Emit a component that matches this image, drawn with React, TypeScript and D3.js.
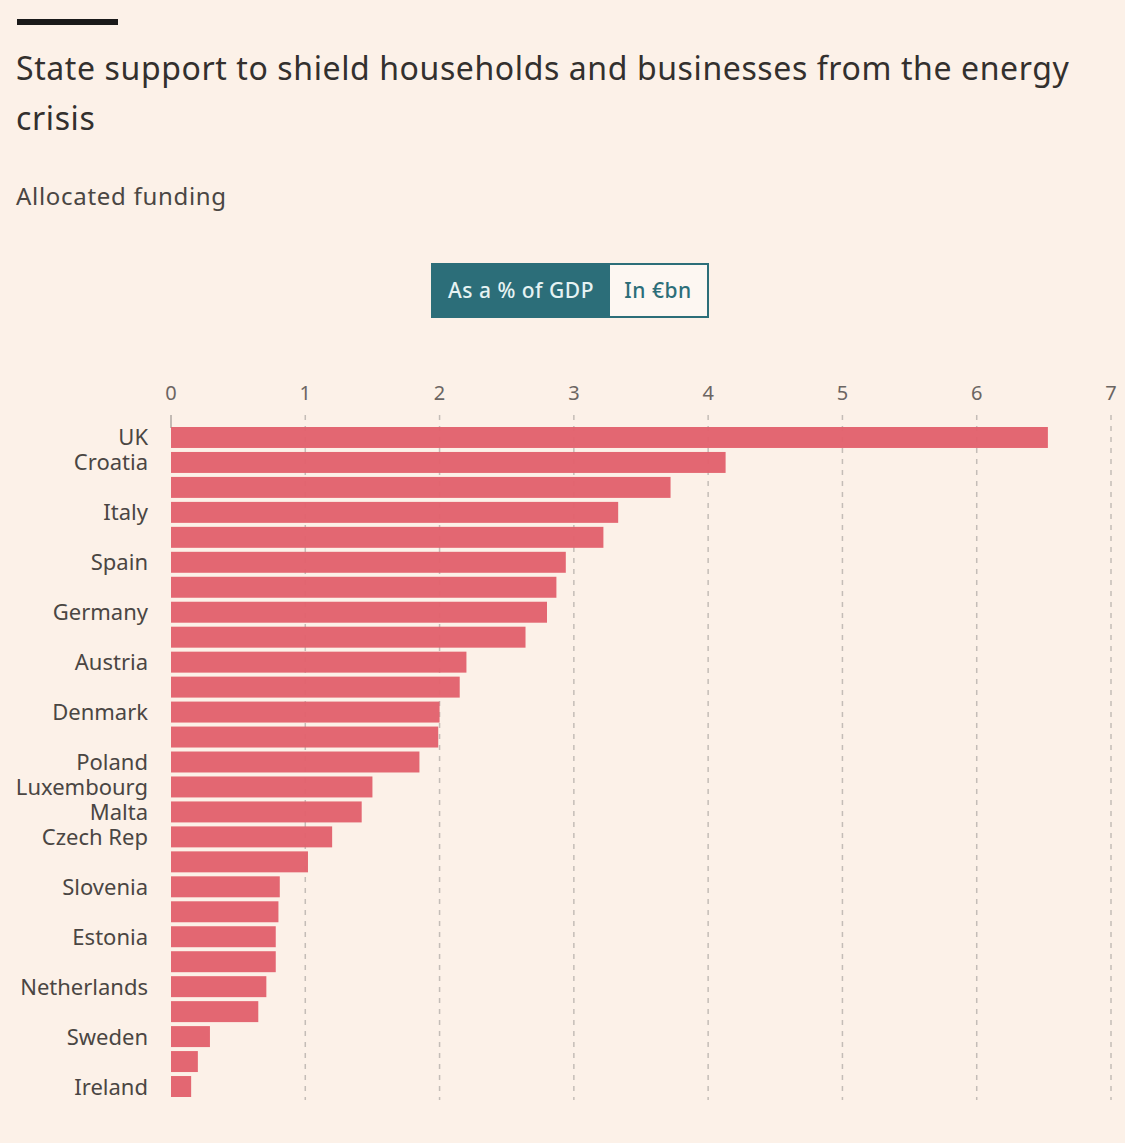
import React from "react";
import * as d3 from "d3";

const countries = [
  "UK", "Croatia", "", "Italy", "", "Spain", "", "Germany", "", "Austria", "",
  "Denmark", "", "Poland", "Luxembourg", "Malta", "Czech Rep", "", "Slovenia", "",
  "Estonia", "", "Netherlands", "", "Sweden", "", "Ireland",
];
const values = [
  6.53, 4.13, 3.72, 3.33, 3.22, 2.94, 2.87, 2.80, 2.64, 2.20, 2.15,
  2.00, 1.99, 1.85, 1.50, 1.42, 1.20, 1.02, 0.81, 0.80, 0.78, 0.78,
  0.71, 0.65, 0.29, 0.20, 0.15,
];
const ticks = [0, 1, 2, 3, 4, 5, 6, 7];

const W = 1125;
const H = 1143;
const BG = "#fcf1e8";
const BAR = "#e2626d";
const TEXT = "#4a4643";
const TEAL = "#2c6e79";
const FONT = "'Noto Sans', 'Open Sans', sans-serif";

export default function App() {
  const x = d3.scaleLinear().domain([0, 7]).range([171, 1111]);
  const idx = countries.map((_, i) => i);
  const y = d3.scaleBand<number>().domain(idx).range([427, 1097]).paddingInner(0.16).paddingOuter(0);
  const bw = y.bandwidth();

  return (
    <svg width={W} height={H} style={{ position: "absolute", left: 0, top: 0, background: BG }}>
      <rect x={0} y={0} width={W} height={H} fill={BG} />
      <rect x={17} y={19} width={101} height={6} fill="#1a1a1a" />
      <text x={16} y={80} fontFamily={FONT} fontSize={32} letterSpacing={0.6} fill="#33302e">
        State support to shield households and businesses from the energy
      </text>
      <text x={16} y={130} fontFamily={FONT} fontSize={32} letterSpacing={0.6} fill="#33302e">
        crisis
      </text>
      <text x={16} y={205} fontFamily={FONT} fontSize={24} letterSpacing={0.7} fill={TEXT}>
        Allocated funding
      </text>

      {/* toggle buttons */}
      <rect x={431} y={263} width={178} height={55} fill={TEAL} />
      <rect x={609} y={264} width={99} height={53} fill="#fdf7f2" stroke={TEAL} strokeWidth={2} />
      <text x={521} y={298} textAnchor="middle" fontFamily={FONT} fontSize={21} fontWeight={500} letterSpacing={0.5} fill="#e6f3f3">
        As a % of GDP
      </text>
      <text x={658} y={298} textAnchor="middle" fontFamily={FONT} fontSize={21} fontWeight={500} letterSpacing={0.5} fill={TEAL}>
        In €bn
      </text>

      {/* x ticks and gridlines */}
      {ticks.map((t) => (
        <g key={t}>
          <text x={x(t)} y={400} textAnchor="middle" fontFamily={FONT} fontSize={20} fill="#6b6562">
            {t}
          </text>
          {t === 0 ? (
            <line x1={x(t)} x2={x(t)} y1={415} y2={428} stroke="#8a8480" strokeWidth={1} />
          ) : (
            <line
              x1={x(t)}
              x2={x(t)}
              y1={415}
              y2={1100}
              stroke="#c4bdb7"
              strokeWidth={1.5}
              strokeDasharray="5,6"
            />
          )}
        </g>
      ))}

      {/* bars */}
      {values.map((v, i) => (
        <rect key={i} x={x(0)} y={y(i)} width={x(v) - x(0)} height={bw} fill={BAR} fillOpacity={0.97} />
      ))}

      {/* labels */}
      {countries.map((c, i) =>
        c ? (
          <text
            key={i}
            x={148}
            y={(y(i) as number) + bw / 2 + 8}
            textAnchor="end"
            fontFamily={FONT}
            fontSize={22}
            fill={TEXT}
          >
            {c}
          </text>
        ) : null
      )}
    </svg>
  );
}
